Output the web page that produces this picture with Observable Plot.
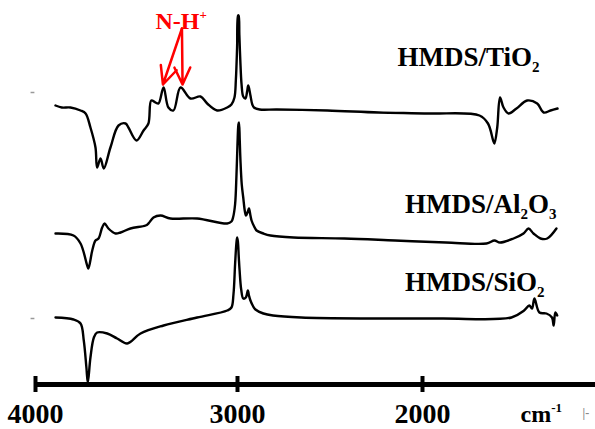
<!DOCTYPE html>
<html>
<head>
<meta charset="utf-8">
<script src="https://cdn.jsdelivr.net/npm/d3@7"></script>
<script src="https://cdn.jsdelivr.net/npm/@observablehq/plot@0.6"></script>
<style>
  html, body { margin: 0; padding: 0; background: #ffffff; }
  #chart { width: 595px; height: 429px; }
  #chart svg text { font-family: "Liberation Serif", "Times New Roman", serif !important; font-weight: bold; }
</style>
</head>
<body>
<div id="chart"></div>
<script>
// Wavenumbers (cm-1) and intensities (arbitrary units, vertically offset spectra)
const tiWave = [3901,3870,3827,3777,3752,3728,3703,3695,3678,3662,3629,3589,3554,3540,3500,3465,3441,3427,3406,3391,3366,3342,3317,3282,3233,3183,3150,3101,3051,3030,3015,3008,3002,2997,2994,2990,2985,2978,2969,2957,2948,2942,2936,2930,2920,2911,2880,2787,2514,2238,1965,1692,1646,1618,1611,1596,1581,1562,1535,1492,1434,1380,1345,1308,1270];
const tiInt  = [324,322,322,319,316,302,282,262,271,261,282,304,306,302,289,299,306,329,327,326,342,322,319,342,331,333,326,319,322,325,332,350,382,414,414,395,370,345,333,331,338,344,340,334,325,322,320,320,319,317,316,314,306,289,286,302,332,322,316,321,329,326,317,319,321];

const alWave = [3901,3812,3777,3744,3738,3719,3703,3688,3670,3658,3639,3604,3579,3530,3455,3441,3416,3381,3332,3200,3051,3030,3022,3012,3005,3000,2995,2992,2988,2984,2977,2969,2960,2954,2944,2938,2930,2924,2910,2897,2860,2822,2697,2422,2148,1874,1654,1611,1581,1508,1454,1427,1400,1362,1326,1276];
const alInt  = [196,194,186,164,161,179,189,191,202,206,201,196,197,201,204,206,212,214,211,211,206,208,212,225,255,286,305,307,290,269,245,232,218,214,218,221,214,209,203,199,196,194,192,191,189,187,186,189,187,191,196,201,196,191,191,201];

const siWave = [3901,3812,3777,3761,3748,3741,3728,3711,3695,3645,3596,3546,3480,3366,3200,3051,3030,3020,3012,3006,3002,2998,2993,2989,2980,2969,2955,2944,2938,2930,2915,2903,2860,2808,2656,2276,1897,1519,1451,1423,1408,1395,1368,1330,1300,1291,1282,1272];
const siInt  = [112,110,106,89,62,47,72,92,97,96,91,86,96,104,112,119,122,135,165,185,192,188,172,160,140,131,132,139,134,129,123,120,116,114,112,111,111,112,119,124,121,131,117,116,112,104,117,114];

const seriesNames = ["HMDS/TiO2", "HMDS/Al2O3", "HMDS/SiO2"];
const tickValues = [4000, 3000, 2000];
const tickLabels = ["4000", "3000", "2000"];
const baselineMarks = [337, 111]; // small grey baseline markers at left edge

const rows = [];
[[tiWave, tiInt], [alWave, alInt], [siWave, siInt]].forEach(([w, v], i) => {
  w.forEach((x, j) => rows.push({series: seriesNames[i], wave: x, value: v[j]}));
});

const labels = [
  {text: "HMDS/TiO2", wave: 2135, value: 364},
  {text: "HMDS/Al2O3", wave: 2095, value: 217},
  {text: "HMDS/SiO2", wave: 2095, value: 139}
];

const serif = "Liberation Serif";

const chart = Plot.plot({
  width: 595,
  height: 429,
  marginLeft: 0,
  marginRight: 0,
  marginTop: 0,
  marginBottom: 45,
  style: {background: "#ffffff", overflow: "visible"},
  x: {type: "linear", domain: [4000, 3000, 1000], range: [35, 237, 607], axis: null},
  y: {domain: [45, 429], axis: null},
  marks: [
    // spectra
    Plot.line(rows, {x: "wave", y: "value", z: "series", stroke: "#000", strokeWidth: 2.4, strokeLinejoin: "round", curve: "catmull-rom"}),
    // small grey marks at left
    Plot.ruleY(baselineMarks, {x1: 4022, x2: 4003, stroke: "#999", strokeWidth: 1.5}),
    // axis line
    Plot.ruleY([45], {x1: 4000, x2: 1035, stroke: "#000", strokeWidth: 5}),
    // major ticks
    Plot.ruleX(tickValues, {y1: 37, y2: 53, stroke: "#000", strokeWidth: 4}),
    // tick labels
    Plot.text(tickValues, {x: d => d, y: 7, text: (d, i) => tickLabels[i], fontSize: 28, fontWeight: "bold", fontFamily: serif, fill: "#000", lineAnchor: "bottom"}),
    Plot.text(["cm-1"], {x: 1470, y: 8, text: d => d, textAnchor: "start", fontSize: 24, fontWeight: "bold", fontFamily: serif, fill: "#000", lineAnchor: "bottom"}),
    Plot.text(["|-"], {x: 1135, y: 16, text: d => d, textAnchor: "start", fontSize: 12, fontFamily: serif, fill: "#888"}),
    // series labels
    Plot.text(labels, {x: "wave", y: "value", text: "text", textAnchor: "start", lineAnchor: "bottom", fontSize: 27, fontWeight: "bold", fontFamily: serif, fill: "#000"}),
    // N-H+ annotation
    Plot.text(["N-H+"], {x: 3406, y: 401, text: d => d, textAnchor: "start", fontSize: 24, fontWeight: "bold", fontFamily: serif, fill: "#ff0000", lineAnchor: "bottom"}),
    Plot.arrow([{x1: 3275, y1: 401, x2: 3369, y2: 345}, {x1: 3275, y1: 401, x2: 3272, y2: 345}], {x1: "x1", y1: "y1", x2: "x2", y2: "y2", stroke: "#ff0000", strokeWidth: 2.5, headLength: 16, headAngle: 50})
  ]
});

// subscripts / superscripts as real text tspans
const rich = {
  "HMDS/TiO2": [["HMDS/TiO", 0, null], ["2", 6, 15]],
  "HMDS/Al2O3": [["HMDS/Al", 0, null], ["2", 6, 15], ["O", -6, null], ["3", 6, 15]],
  "HMDS/SiO2": [["HMDS/SiO", 0, null], ["2", 6, 15]],
  "N-H+": [["N-H", 0, null], ["+", -10, 13]],
  "cm-1": [["cm", 0, null], ["-1", -10, 13]]
};
d3.select(chart).selectAll("text").each(function() {
  const t = this.textContent;
  if (rich[t]) {
    const sel = d3.select(this);
    sel.text(null);
    rich[t].forEach(([s, dy, fs]) => {
      const ts = sel.append("tspan").text(s);
      if (dy) ts.attr("dy", dy);
      if (fs) ts.attr("font-size", fs);
    });
  }
});

document.getElementById("chart").appendChild(chart);
</script>
</body>
</html>
